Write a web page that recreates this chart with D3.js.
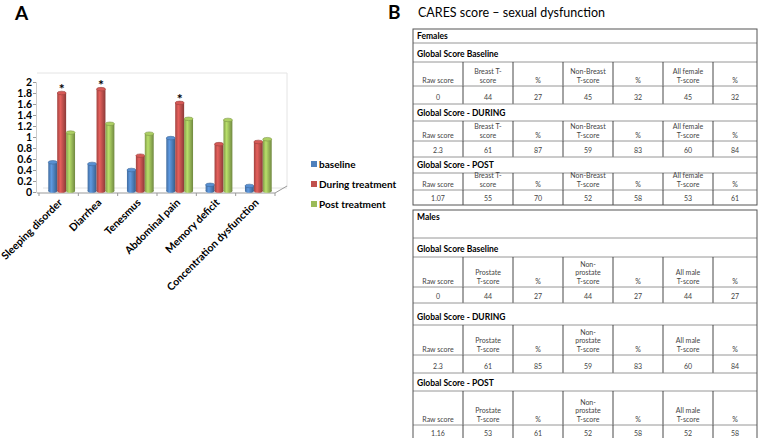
<!DOCTYPE html>
<html>
<head>
<meta charset="utf-8">
<script src="https://cdn.jsdelivr.net/npm/d3@7"></script>
<style>
body { margin: 0; background: #fff; }
svg { display: block; font-family: Lato, "Liberation Sans", sans-serif; }
</style>
</head>
<body>
<svg id="chart" width="764" height="438"></svg>
<script>
// panel A data
const categories = ["Sleeping disorder", "Diarrhea", "Tenesmus", "Abdominal pain", "Memory deficit", "Concentration dysfunction"];
const seriesNames = ["baseline", "During treatment", "Post treatment"];
const baseline = [0.54, 0.51, 0.40, 0.98, 0.13, 0.11];
const during = [1.80, 1.87, 0.66, 1.62, 0.87, 0.91];
const post = [1.08, 1.24, 1.06, 1.33, 1.31, 0.96];
const significant = ["Sleeping disorder", "Diarrhea", "Abdominal pain"];
const yTicks = [0, 0.2, 0.4, 0.6, 0.8, 1, 1.2, 1.4, 1.6, 1.8, 2];

// panel B data
const femaleHeaders = [["Raw score"], ["Breast T-", "score"], ["%"], ["Non-Breast", "T-score"], ["%"], ["All female", "T-score"], ["%"]];
const maleHeaders = [["Raw score"], ["Prostate", "T-score"], ["%"], ["Non-", "prostate", "T-score"], ["%"], ["All male", "T-score"], ["%"]];
const sectionTitles = ["Global Score Baseline", "Global Score - DURING", "Global Score - POST"];
const femaleBaseline = ["0", "44", "27", "45", "32", "45", "32"];
const femaleDuring = ["2.3", "61", "87", "59", "83", "60", "84"];
const femalePost = ["1.07", "55", "70", "52", "58", "53", "61"];
const maleBaseline = ["0", "44", "27", "44", "27", "44", "27"];
const maleDuring = ["2.3", "61", "85", "59", "83", "60", "84"];
const malePost = ["1.16", "53", "61", "52", "58", "52", "58"];

const svg = d3.select("#chart");
const colors = ["#4f81bd", "#c0504d", "#9bbb59"];
const series = [baseline, during, post];

// ---------- panel A ----------
svg.append("text").attr("x", 15).attr("y", 20)
    .style("font-size", "19px").style("font-weight", "bold").text("A");

let y = d3.scaleLinear().domain([0, 2]).range([192, 82]);
let x0 = d3.scaleBand().domain(categories).range([39, 275])
    .paddingInner(0.32).paddingOuter(0.16);
let x1 = d3.scaleBand().domain(seriesNames).range([0, x0.bandwidth()]);

let defs = svg.append("defs");
colors.forEach((c, i) => {
    let g = defs.append("linearGradient").attr("id", "cyl" + i)
        .attr("x1", "0%").attr("x2", "100%");
    g.append("stop").attr("offset", "0%").attr("stop-color", d3.color(c).darker(0.5));
    g.append("stop").attr("offset", "35%").attr("stop-color", d3.color(c).brighter(0.5));
    g.append("stop").attr("offset", "100%").attr("stop-color", d3.color(c).darker(0.9));
});

// back walls / floor
let plot = svg.append("g");
plot.append("path")
    .attr("d", "M37,73 H287 V187 M43,188 H287")
    .attr("fill", "none").attr("stroke", "#e4e4e4");

// y axis
let yAxis = plot.append("g").attr("transform", "translate(36,0)")
    .call(d3.axisLeft(y).tickValues(yTicks).tickSize(3).tickFormat(d3.format("~g")));
yAxis.select(".domain").attr("stroke", "#ccc");
yAxis.selectAll(".tick line").attr("stroke", "#999");
yAxis.selectAll("text").attr("fill", "#000").attr("x", -4)
    .style("font-size", "10.5px").style("font-weight", "bold").style("font-family", "Lato");

// x axis
let xAxis = plot.append("g").attr("transform", "translate(0,193)");
xAxis.append("path").attr("d", "M37,0 H275 L287,-7").attr("fill", "none").attr("stroke", "#999");
let bounds = categories.map(c => x0(c) - x0.step() * x0.paddingInner() / 2).concat([275]);
xAxis.selectAll(".tk").data(bounds).enter().append("line")
    .attr("x1", d => d).attr("x2", d => d).attr("y1", 0).attr("y2", 3)
    .attr("stroke", "#999");
xAxis.selectAll(".lbl").data(categories).enter().append("text")
    .attr("transform", d => "translate(" + (x0(d) + x0.bandwidth() / 2 + 2) + ",8) rotate(-45)")
    .attr("text-anchor", "end").attr("dy", "0.3em")
    .style("font-size", "10.5px").style("font-weight", "bold")
    .text(d => d);

// cylinders
let groups = plot.selectAll(".grp").data(categories).enter().append("g")
    .attr("transform", d => "translate(" + (x0(d) + 3) + ",0)");
let ry = 1.8;
groups.each(function (cat, ci) {
    let g = d3.select(this);
    series.forEach((vals, si) => {
        let bx = x1(seriesNames[si]);
        let w = x1.bandwidth();
        let top = y(vals[ci]);
        let bottom = y(0) - 1;
        let cx = bx + w / 2;
        g.append("ellipse").attr("cx", cx).attr("cy", bottom).attr("rx", w / 2).attr("ry", ry)
            .attr("fill", "url(#cyl" + si + ")");
        g.append("rect").attr("x", bx).attr("y", top).attr("width", w).attr("height", bottom - top)
            .attr("fill", "url(#cyl" + si + ")");
        g.append("ellipse").attr("cx", cx).attr("cy", top).attr("rx", w / 2).attr("ry", ry)
            .attr("fill", d3.color(colors[si]).brighter(0.3))
            .attr("stroke", d3.color(colors[si]).darker(0.6)).attr("stroke-width", 0.6);
    });
    if (significant.includes(cat)) {
        let rx = x1(seriesNames[1]) + x1.bandwidth() / 2;
        g.append("text").attr("x", rx).attr("y", y(during[ci]) + 1)
            .attr("text-anchor", "middle")
            .style("font-size", "14px").style("font-weight", "bold").text("*");
    }
});

// legend
let legend = svg.append("g").attr("transform", "translate(311,161)");
seriesNames.forEach((s, i) => {
    let lg = legend.append("g").attr("transform", "translate(0," + i * 20 + ")");
    lg.append("rect").attr("width", 6).attr("height", 6).attr("fill", colors[i]);
    lg.append("text").attr("x", 8).attr("y", 6.5)
        .style("font-size", "10px").style("font-weight", "bold").text(s);
});

// ---------- panel B ----------
svg.append("text").attr("x", 388).attr("y", 19)
    .style("font-size", "19px").style("font-weight", "bold").text("B");
svg.append("text").attr("x", 418).attr("y", 17)
    .style("font-size", "12.5px").text("CARES score \u2013 sexual dysfunction");

let colEdges = [413, 463, 513, 563, 613, 663, 713, 757];

function drawTable(top, group, headers, blocks, heights) {
    let t = svg.append("g");
    let rows = [{ type: "group", text: group }];
    blocks.forEach((b, i) => {
        rows.push({ type: "title", text: sectionTitles[i] });
        rows.push({ type: "head", cells: headers });
        rows.push({ type: "vals", cells: b });
    });
    let yy = top;
    rows.forEach((r, i) => {
        r.y0 = yy;
        r.y1 = yy + heights[i];
        yy = r.y1;
    });
    let bottom = yy;

    rows.forEach((r, i) => {
        if (i > 0) {
            t.append("line").attr("x1", colEdges[0]).attr("x2", colEdges[7])
                .attr("y1", r.y0).attr("y2", r.y0)
                .attr("stroke", "#8a8a8a").attr("stroke-width", 0.9);
        }
        if (r.type === "group" || r.type === "title") {
            t.append("text").attr("x", 417)
                .attr("y", r.type === "group" ? r.y0 + 9.5 : r.y1 - 5)
                .style("font-size", "8.5px").style("font-weight", "bold").text(r.text);
        } else {
            for (let c = 1; c < 7; c++) {
                t.append("line").attr("x1", colEdges[c]).attr("x2", colEdges[c])
                    .attr("y1", r.y0).attr("y2", r.y1)
                    .attr("stroke", "#333").attr("stroke-width", 0.9);
            }
            r.cells.forEach((cell, c) => {
                let cx = (colEdges[c] + colEdges[c + 1]) / 2;
                let lines = Array.isArray(cell) ? cell : [cell];
                let base = r.type === "head" ? r.y1 - 3.5 : r.y1 - 4.5;
                lines.forEach((ln, li) => {
                    t.append("text").attr("x", cx).attr("y", base - (lines.length - 1 - li) * 8.5)
                        .attr("text-anchor", "middle").attr("fill", "#444")
                        .style("font-size", "7px").text(ln);
                });
            });
        }
    });
    t.append("rect").attr("x", colEdges[0]).attr("y", top)
        .attr("width", colEdges[7] - colEdges[0]).attr("height", bottom - top)
        .attr("fill", "none").attr("stroke", "#555").attr("stroke-width", 1);
}

drawTable(29, "Females", femaleHeaders, [femaleBaseline, femaleDuring, femalePost],
    [14, 19, 24, 18, 17, 20, 16, 16, 17, 15]);
drawTable(210, "Males", maleHeaders, [maleBaseline, maleDuring, malePost],
    [28, 19, 30, 16, 22, 30, 18, 18, 34, 15]);
</script>
</body>
</html>
